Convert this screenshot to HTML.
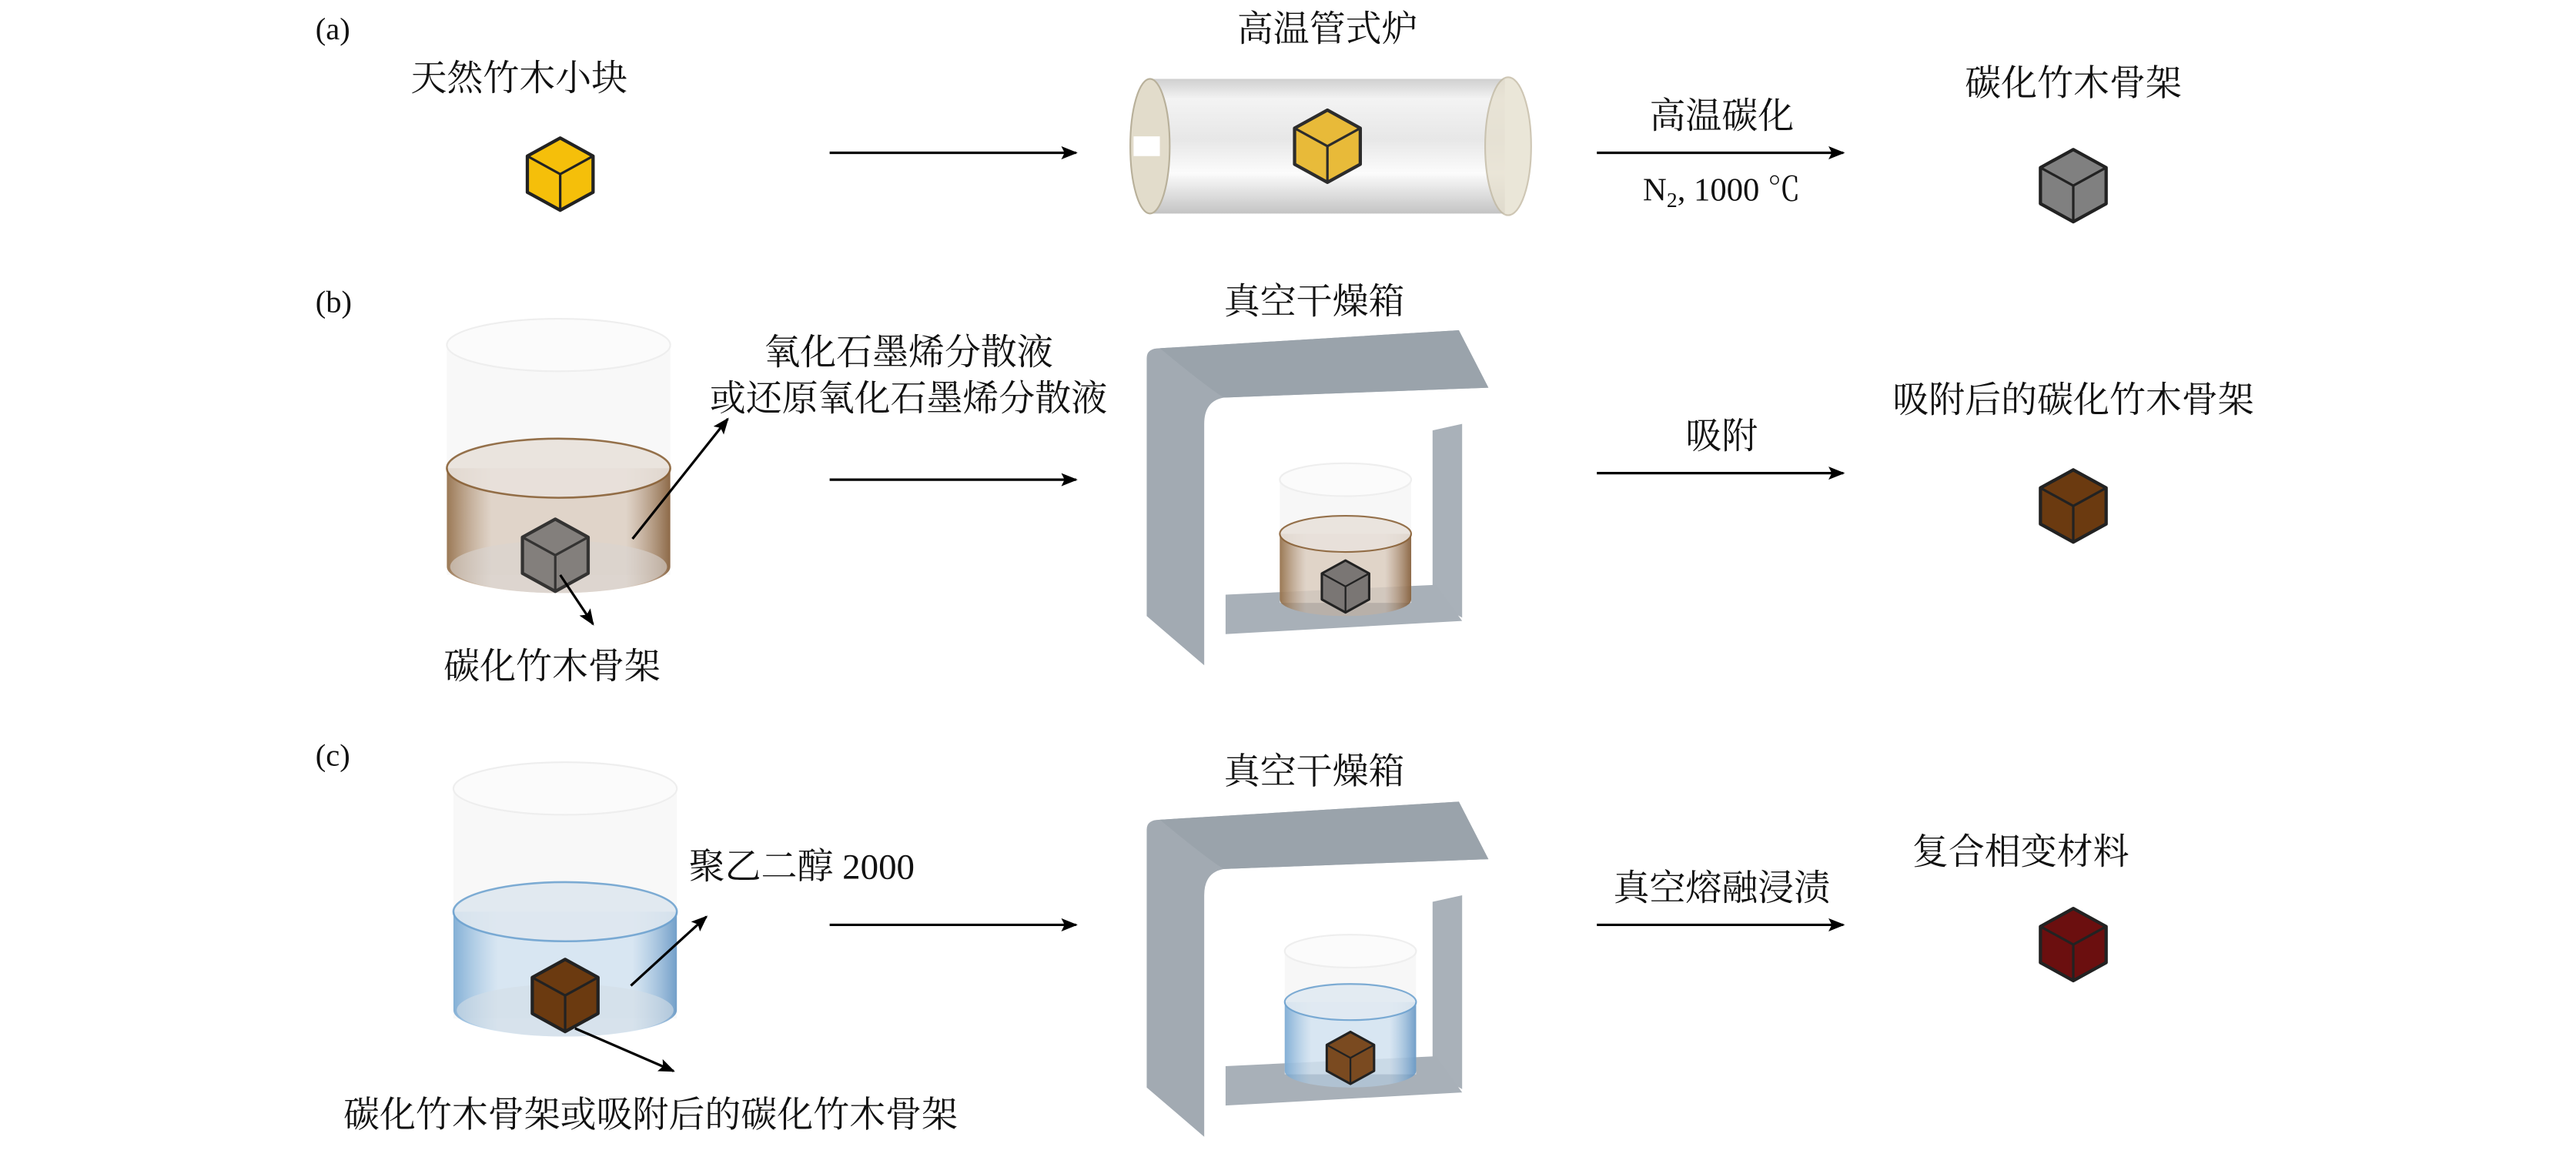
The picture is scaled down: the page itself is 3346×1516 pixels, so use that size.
<!DOCTYPE html>
<html><head><meta charset="utf-8"><style>
html,body{margin:0;padding:0;background:#fff;}
svg{display:block;}
text{font-family:"Liberation Serif","Noto Serif CJK SC",serif;fill:#111;}
</style></head><body>
<svg width="3346" height="1516" viewBox="0 0 1568 710.4" xmlns="http://www.w3.org/2000/svg">
<defs>
<marker id="ah" markerWidth="10" markerHeight="8" refX="9" refY="4" orient="auto" markerUnits="userSpaceOnUse"><path d="M0,0 L10,4 L0,8 L2,4 Z" fill="#000"/></marker>
<linearGradient id="tube" x1="0" y1="0" x2="0" y2="1">
<stop offset="0" stop-color="#bbb"/><stop offset="0.15" stop-color="#eee"/><stop offset="0.45" stop-color="#ddd"/><stop offset="0.7" stop-color="#fafafa"/><stop offset="1" stop-color="#aaa"/></linearGradient>
<linearGradient id="brown" x1="0" y1="0" x2="1" y2="0">
<stop offset="0" stop-color="#8a6238" stop-opacity=".85"/><stop offset=".2" stop-color="#c8b09a" stop-opacity=".5"/><stop offset=".8" stop-color="#c8b09a" stop-opacity=".5"/><stop offset="1" stop-color="#7a5028" stop-opacity=".85"/></linearGradient>
<linearGradient id="blue" x1="0" y1="0" x2="1" y2="0">
<stop offset="0" stop-color="#6fa3d0" stop-opacity=".85"/><stop offset=".2" stop-color="#b8d4ec" stop-opacity=".5"/><stop offset=".8" stop-color="#b8d4ec" stop-opacity=".5"/><stop offset="1" stop-color="#5a8fc0" stop-opacity=".85"/></linearGradient>
<g id="cube"><path d="M0,-22 L20,-11 L20,11 L0,22 L-20,11 L-20,-11 Z" stroke="#222" stroke-width="2" stroke-linejoin="round"/><path d="M-20,-11 L0,0 L20,-11 M0,0 L0,22" fill="none" stroke="#222" stroke-width="1.5"/></g>
<g id="oven">
<path d="M698,218 Q698,212 706,212 L888,201 L906,236 L745,242 Q733,244 733,258 L733,405 L698,375 Z" fill="#a2aab2"/>
<path d="M706,212 L888,201 L906,236 L745,242 Q735,236 706,212 Z" fill="#9aa3ab"/>
<path d="M872,262 L890,258 L890,376 L872,366 Z" fill="#a9b1b9"/>
<path d="M746,362 L874,356 L890,378 L746,386 Z" fill="#a8b0b8"/>
</g>
</defs>
<!-- (a) -->
<text x="192" y="24" font-size="19">(a)</text>
<text x="316" y="55" font-size="22" text-anchor="middle">天然竹木小块</text>
<use href="#cube" x="341" y="106" fill="#f5bf0a"/>
<line x1="505" y1="93" x2="655" y2="93" stroke="#000" stroke-width="1.5" marker-end="url(#ah)"/>
<text x="808" y="25" font-size="22" text-anchor="middle">高温管式炉</text>
<rect x="700" y="48" width="216" height="82" fill="url(#tube)" opacity=".7"/>
<ellipse cx="700" cy="89" rx="12" ry="41" fill="#e2dccb" stroke="#b8b09a"/>
<rect x="690" y="83" width="16" height="12" fill="#fff"/>
<ellipse cx="918" cy="89" rx="14" ry="42" fill="#e6e0cf" opacity=".8" stroke="#c2b9a2"/>
<use href="#cube" x="808" y="89" fill="#e8b830" opacity=".95"/>
<text x="1048" y="78" font-size="22" text-anchor="middle">高温碳化</text>
<line x1="972" y1="93" x2="1122" y2="93" stroke="#000" stroke-width="1.5" marker-end="url(#ah)"/>
<text x="1048" y="122" font-size="20" text-anchor="middle">N<tspan font-size="13" dy="4">2</tspan><tspan dy="-4">, 1000 ℃</tspan></text>
<text x="1262" y="58" font-size="22" text-anchor="middle">碳化竹木骨架</text>
<use href="#cube" x="1262" y="113" fill="#808080"/>
<!-- (b) -->
<text x="192" y="190" font-size="19">(b)</text>
<rect x="272" y="210" width="136" height="140" fill="#f4f4f4" opacity=".6"/>
<ellipse cx="340" cy="210" rx="68" ry="16" fill="#fbfbfb" stroke="#eee"/>
<path d="M272,285 L272,345 A68,16 0 0 0 408,345 L408,285 Z" fill="url(#brown)"/>
<ellipse cx="340" cy="285" rx="68" ry="18" fill="#e9e2dc" stroke="#8a6238" stroke-width="1.2" opacity=".9"/>
<ellipse cx="340" cy="345" rx="66" ry="16" fill="#d9d4d0" opacity=".6"/>
<use href="#cube" x="338" y="338" fill="#7a7674" opacity=".9"/>
<line x1="385" y1="328" x2="443" y2="255" stroke="#000" stroke-width="1.5" marker-end="url(#ah)"/>
<line x1="341" y1="350" x2="361" y2="380" stroke="#000" stroke-width="1.5" marker-end="url(#ah)"/>
<text x="553" y="222" font-size="22" text-anchor="middle">氧化石墨烯分散液</text>
<text x="553" y="250" font-size="22" text-anchor="middle">或还原氧化石墨烯分散液</text>
<text x="336" y="413" font-size="22" text-anchor="middle">碳化竹木骨架</text>
<line x1="505" y1="292" x2="655" y2="292" stroke="#000" stroke-width="1.5" marker-end="url(#ah)"/>
<text x="800" y="191" font-size="22" text-anchor="middle">真空干燥箱</text>
<use href="#oven"/>
<rect x="779" y="292" width="80" height="75" fill="#f4f4f4" opacity=".7"/>
<ellipse cx="819" cy="292" rx="40" ry="10" fill="#fbfbfb" stroke="#eee"/>
<path d="M779,325 L779,365 A40,10 0 0 0 859,365 L859,325 Z" fill="url(#brown)"/>
<ellipse cx="819" cy="325" rx="40" ry="11" fill="#e9e2dc" stroke="#8a6238" opacity=".9"/>
<use href="#cube" x="819" y="357" fill="#7a7674" transform="translate(819 357) scale(.72) translate(-819 -357)"/>
<text x="1048" y="273" font-size="22" text-anchor="middle">吸附</text>
<line x1="972" y1="288" x2="1122" y2="288" stroke="#000" stroke-width="1.5" marker-end="url(#ah)"/>
<text x="1262" y="251" font-size="22" text-anchor="middle">吸附后的碳化竹木骨架</text>
<use href="#cube" x="1262" y="308" fill="#6b3a10"/>
<!-- (c) -->
<text x="192" y="466" font-size="19">(c)</text>
<rect x="276" y="480" width="136" height="140" fill="#f4f4f4" opacity=".6"/>
<ellipse cx="344" cy="480" rx="68" ry="16" fill="#fbfbfb" stroke="#eee"/>
<path d="M276,555 L276,615 A68,16 0 0 0 412,615 L412,555 Z" fill="url(#blue)"/>
<ellipse cx="344" cy="555" rx="68" ry="18" fill="#dfe8f0" stroke="#6fa3d0" stroke-width="1.2" opacity=".9"/>
<ellipse cx="344" cy="615" rx="66" ry="16" fill="#d4dde6" opacity=".6"/>
<use href="#cube" x="344" y="606" fill="#6b3a10"/>
<line x1="384" y1="600" x2="430" y2="558" stroke="#000" stroke-width="1.5" marker-end="url(#ah)"/>
<line x1="350" y1="626" x2="410" y2="652" stroke="#000" stroke-width="1.5" marker-end="url(#ah)"/>
<text x="488" y="535" font-size="22" text-anchor="middle">聚乙二醇 2000</text>
<text x="396" y="686" font-size="22" text-anchor="middle">碳化竹木骨架或吸附后的碳化竹木骨架</text>
<line x1="505" y1="563" x2="655" y2="563" stroke="#000" stroke-width="1.5" marker-end="url(#ah)"/>
<text x="800" y="477" font-size="22" text-anchor="middle">真空干燥箱</text>
<use href="#oven" y="287"/>
<rect x="782" y="579" width="80" height="75" fill="#f4f4f4" opacity=".7"/>
<ellipse cx="822" cy="579" rx="40" ry="10" fill="#fbfbfb" stroke="#eee"/>
<path d="M782,610 L782,652 A40,10 0 0 0 862,652 L862,610 Z" fill="url(#blue)"/>
<ellipse cx="822" cy="610" rx="40" ry="11" fill="#e1eaf2" stroke="#6fa3d0" opacity=".9"/>
<use href="#cube" x="822" y="644" fill="#7a4a20" transform="translate(822 644) scale(.72) translate(-822 -644)"/>
<text x="1048" y="548" font-size="22" text-anchor="middle">真空熔融浸渍</text>
<line x1="972" y1="563" x2="1122" y2="563" stroke="#000" stroke-width="1.5" marker-end="url(#ah)"/>
<text x="1230" y="526" font-size="22" text-anchor="middle">复合相变材料</text>
<use href="#cube" x="1262" y="575" fill="#6b0f0f"/>
</svg>
</body></html>
